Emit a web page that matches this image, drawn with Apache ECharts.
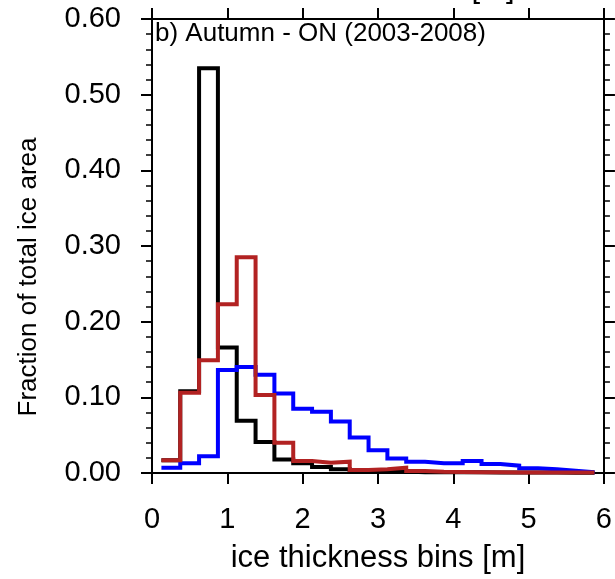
<!DOCTYPE html>
<html>
<head>
<meta charset="utf-8">
<script src="https://cdn.jsdelivr.net/npm/echarts@6/dist/echarts.min.js"></script>
<style>html,body{margin:0;padding:0;background:#fff}#c{width:615px;height:579px}</style>
</head>
<body>
<div id="c"></div>
<script>
// bin centers of ice thickness bins [m]
const binCenters = [0.25,0.5,0.75,1.0,1.25,1.5,1.75,2.0,2.25,2.5,2.75,3.0,3.25,3.5,3.75,4.0,4.25,4.5,4.75,5.0,5.25,5.5,5.75];
const binWidth = 0.25;
const blackValues = [0.017,0.108,0.535,0.166,0.069,0.041,0.018,0.013,0.008,0.005,0.002,0.002,0.002,0.001,0.001,0.001,0.001,0.0008,0.0006,0.0005,0.0005,0.0004,0.0004];
const redValues   = [0.017,0.106,0.149,0.223,0.285,0.103,0.040,0.016,0.0137,0.015,0.004,0.005,0.007,0.0027,0.0015,0.0012,0.001,0.001,0.0008,0.0008,0.0006,0.0006,0.0005];
const blueValues  = [0.007,0.013,0.022,0.136,0.140,0.130,0.105,0.085,0.081,0.068,0.047,0.030,0.019,0.015,0.013,0.013,0.016,0.012,0.0097,0.0062,0.0049,0.003,0.001];
const xTicks = [0,1,2,3,4,5,6];
const yTicks = [0,0.1,0.2,0.3,0.4,0.5,0.6];

function stepData(vals){
  const d = vals.map((v,i)=>[binCenters[i]-binWidth/2, v]);
  d.push([binCenters[binCenters.length-1]+binWidth/2, vals[vals.length-1]]);
  return d;
}
const FONT = 'Liberation Sans';
const chart = echarts.init(document.getElementById('c'), null, {renderer:'canvas'});
const axisCommon = {
  axisLine:{show:true, onZero:false, lineStyle:{color:'#000', width:2}},
  axisTick:{show:true, inside:false, length:11, lineStyle:{color:'#000', width:2}},
  splitLine:{show:false}
};
chart.setOption({
  animation:false,
  backgroundColor:'#fff',
  grid:{left:152, right:10, top:19, bottom:106},
  xAxis:[
    Object.assign({type:'value', position:'bottom', min:xTicks[0], max:xTicks[xTicks.length-1], interval:1,
      name:'ice thickness bins [m]', nameLocation:'middle', nameGap:70,
      nameTextStyle:{fontFamily:FONT, fontSize:31, color:'#000'},
      axisLabel:{fontFamily:FONT, fontSize:29, color:'#000', margin:32}}, axisCommon),
    Object.assign({type:'value', position:'top', min:xTicks[0], max:xTicks[xTicks.length-1], interval:1,
      axisLabel:{show:false}}, axisCommon)
  ],
  yAxis:[
    Object.assign({type:'value', position:'left', min:yTicks[0], max:yTicks[yTicks.length-1], interval:0.1,
      minorTick:{show:true, splitNumber:5, length:6, lineStyle:{color:'#000', width:1.5}},
      axisLabel:{fontFamily:FONT, fontSize:29, color:'#000', margin:31, formatter:v=>v.toFixed(2)}}, axisCommon),
    Object.assign({type:'value', position:'right', min:yTicks[0], max:yTicks[yTicks.length-1], interval:0.1,
      minorTick:{show:true, splitNumber:5, length:6, lineStyle:{color:'#000', width:1.5}},
      axisLabel:{show:false}}, axisCommon)
  ],
  graphic:[
    {type:'text', left:155, top:21, style:{text:'b) Autumn - ON (2003-2008)', font:'26px "Liberation Sans"', fill:'#000'}},
    {type:'text', x:493, y:3.5, style:{text:'[m]', font:'31px "Liberation Sans"', fill:'#000', align:'center', verticalAlign:'bottom'}},
    {type:'text', x:29, y:277, rotation:Math.PI/2, style:{text:'Fraction of total ice area', font:'26px "Liberation Sans"', fill:'#000', align:'center', verticalAlign:'middle'}}
  ],
  series:[
    {name:'black', type:'line', step:'end', data:stepData(blackValues), showSymbol:false, symbol:'none',
      lineStyle:{color:'#000', width:4, join:'miter', cap:'butt'}, z:2},
    {name:'blue', type:'line', step:'end', data:stepData(blueValues), showSymbol:false, symbol:'none',
      lineStyle:{color:'#0000ff', width:4, join:'miter', cap:'butt'}, z:3},
    {name:'red', type:'line', step:'end', data:stepData(redValues), showSymbol:false, symbol:'none',
      lineStyle:{color:'#b22222', width:4, join:'miter', cap:'butt'}, z:4}
  ]
});
</script>
</body>
</html>
